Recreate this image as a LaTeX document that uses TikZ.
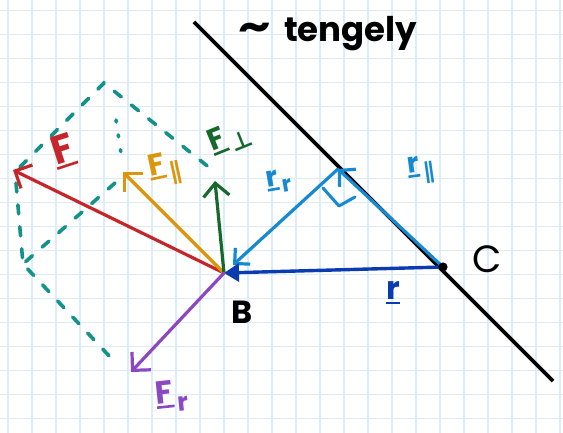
\documentclass[tikz,border=0pt]{standalone}
\usepackage{fontspec}
\setmainfont{Poppins}
\newfontfamily\djv{DejaVu Sans}
\usetikzlibrary{arrows.meta}
\definecolor{gridc}{HTML}{DCECF9}
\definecolor{redc}{HTML}{C4262B}
\definecolor{orangec}{HTML}{DB960C}
\definecolor{greenc}{HTML}{16692C}
\definecolor{purplec}{HTML}{8A48C2}
\definecolor{lbluec}{HTML}{1689D2}
\definecolor{dbluec}{HTML}{0A3BB0}
\definecolor{tealc}{HTML}{13918B}
\newcommand\subx[1]{\kern3.5pt\raisebox{-0.5ex}{\scalebox{0.8}{#1}}}
\newcommand\ulx[1]{\setbox0\hbox{#1}\vtop{\copy0\kern2pt\hrule width\wd0 height 2.6pt}}
\newcommand\parx{{\djv\bfseries ∥}}
\newcommand\perpx{{\djv\bfseries ⊥}}
\begin{document}
\begin{tikzpicture}[x=1pt,y=-1pt,
  vec/.style={line width=3.2pt, line cap=round, -{Straight Barb[length=13pt,width=26pt,line width=3.2pt]}},
  helper/.style={tealc, line width=3.6pt, line cap=round, dash pattern=on 9pt off 13pt},
  helperdot/.style={tealc, line width=3.6pt, line cap=round, dash pattern=on 2pt off 13pt},
  lbl/.style={inner sep=0pt}]
\useasboundingbox (0,0) rectangle (563,433);
\fill[white] (0,0) rectangle (563,433);
\foreach \i in {0,...,23} \draw[gridc,line width=1.3pt] ({8+24*\i},0) -- ++(0,433);
\foreach \j in {0,...,18} \draw[gridc,line width=1.3pt] (0,{10.7+24*\j}) -- ++(563,0);

% points
\coordinate (B) at (224,273);
\coordinate (C) at (443,267);
\coordinate (A) at (338,169);
\coordinate (Ft) at (13,170);
\coordinate (Fpt) at (123,172);
\coordinate (Fnt) at (215,181);
\coordinate (Frt) at (131,372);
\coordinate (Ltop) at (194,22);
\coordinate (Lbot) at (553,381);
\coordinate (D1) at (20,167);
\coordinate (D2) at (104,83);
\coordinate (D3) at (216,173);
\coordinate (E0) at (16,183);
\coordinate (E1) at (23,264);
\coordinate (E2) at (112,359);
\coordinate (G0) at (115,183);
\coordinate (H0) at (116,120);
\coordinate (H1) at (122,160);
\coordinate (Rb) at (233,265);
\coordinate (Ra) at (323,188);
\coordinate (Rc) at (339,206);
\coordinate (Rd) at (355,197);

% construction lines
\draw[helper] (D1) -- (D2) -- (D3);
\draw[helper] (E0) -- (E1) -- (E2);
\draw[helper] (G0) -- (E1);
\draw[helperdot] (H0) -- (H1);

% axis
\draw[line width=3.6pt] (Ltop) -- (Lbot);

% position vectors
\draw[lbluec, line width=3.2pt, line cap=round, -{Straight Barb[length=11pt,width=24pt,line width=3.2pt]}] (C) -- (A);
\draw[lbluec, line width=3.2pt, line cap=round, -{Straight Barb[length=11pt,width=22pt,line width=3.2pt]}] (A) -- (Rb);
\draw[lbluec, line width=3pt, line cap=round, line join=round] (Ra) -- (Rc) -- (Rd);
\draw[dbluec, line width=3.4pt, -{Triangle[length=15pt,width=18pt]}] (C) -- (B);
\fill (C) circle (4.6pt);

% forces
\draw[vec, redc] (B) -- (Ft);
\draw[vec, orangec] (B) -- (Fpt);
\draw[vec, greenc] (B) -- (Fnt);
\draw[vec, purplec] (B) -- (Frt);

% labels
\node[lbl, text=redc, rotate=18, font=\fontsize{40}{40}\selectfont\bfseries] (lF) at (63,151) {\ulx{F}};
\node[lbl, text=orangec, rotate=12, font=\fontsize{30}{30}\selectfont\bfseries] (lFp) at (165,169) {\ulx{F}\subx{\parx}};
\node[lbl, text=greenc, rotate=22, font=\fontsize{30}{30}\selectfont\bfseries] (lFn) at (230,138) {\ulx{F}\subx{\perpx}};
\node[lbl, text=purplec, rotate=6, font=\fontsize{32}{32}\selectfont\bfseries] (lFr) at (172,396) {\ulx{F}\subx{r}};
\node[lbl, text=lbluec, rotate=10, font=\fontsize{28}{28}\selectfont\bfseries] (lrr) at (279,181) {\ulx{r}\subx{r}};
\node[lbl, text=lbluec, rotate=8, font=\fontsize{28}{28}\selectfont\bfseries] (lrp) at (421,170) {\ulx{r}\subx{\parx}};
\node[lbl, text=dbluec, font=\fontsize{32}{32}\selectfont\bfseries] (lr) at (393,293) {\ulx{r}};
\node[lbl, font=\fontsize{32}{32}\selectfont\bfseries] (lB) at (242,312) {B};
\node[lbl, font=\fontsize{38}{38}\selectfont] (lC) at (487,259) {C};
\node[lbl, font=\fontsize{34}{34}\selectfont\bfseries] (lt) at (328,34) {\raisebox{0.1ex}{\scalebox{1.5}[1.2]{\textasciitilde}}\, tengely};
\end{tikzpicture}
\end{document}
